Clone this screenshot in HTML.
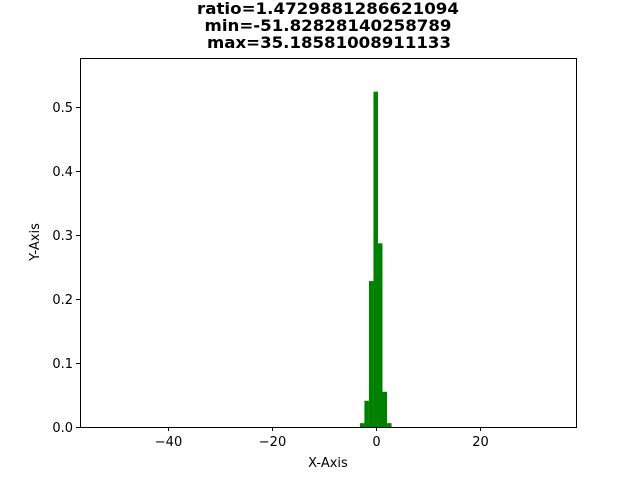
<!DOCTYPE html>
<html><head><meta charset="utf-8"><style>body{margin:0;background:#fff}svg{display:block;font-family:"DejaVu Sans","Liberation Sans",sans-serif}</style></head>
<body>
<svg id="chart" width="640" height="480" viewBox="0 0 640 480">
<g font-weight="bold" font-size="16" text-anchor="middle" fill="#000">
<text x="328" y="14" textLength="262" lengthAdjust="spacingAndGlyphs">ratio=1.4729881286621094</text>
<text x="328" y="31" textLength="247" lengthAdjust="spacingAndGlyphs">min=-51.82828140258789</text>
<text x="329" y="48" textLength="244" lengthAdjust="spacingAndGlyphs">max=35.18581008911133</text>
</g>
<g id="bars"></g>
<rect x="80.5" y="58.5" width="496" height="369" fill="none" stroke="#000" stroke-width="1"/>
<g id="xt" font-size="13" text-anchor="middle"></g>
<g id="yt" font-size="13" text-anchor="end"></g>
<text x="328" y="467" font-size="13" text-anchor="middle">X-Axis</text>
<text x="0" y="0" font-size="13" text-anchor="middle" transform="translate(39,242) rotate(-90)">Y-Axis</text>
</svg>
<script>
const binStart = -51.82828140258789;
const binWidth = 0.8701409149169922;
const binIndex = [56, 57, 58, 59, 60, 61, 62];
const binHeights = [0.006, 0.041, 0.228, 0.524, 0.287, 0.055, 0.006];
const xTicks = [-40, -20, 0, 20];
const yTicks = [0.0, 0.1, 0.2, 0.3, 0.4, 0.5];
const xMin = -56.92, xMax = 38.46, yMin = 0, yMax = 0.5766;
const L = 80, R = 576, T = 58, B = 427;
const sx = v => L + (v - xMin) / (xMax - xMin) * (R - L);
const sy = v => B - (v - yMin) / (yMax - yMin) * (B - T);
const NS = 'http://www.w3.org/2000/svg';
const bars = document.getElementById('bars');
binIndex.forEach((k, i) => {
  const x0 = sx(binStart + k * binWidth), x1 = sx(binStart + (k + 1) * binWidth);
  const r = document.createElementNS(NS, 'rect');
  r.setAttribute('x', x0); r.setAttribute('width', x1 - x0);
  r.setAttribute('y', sy(binHeights[i])); r.setAttribute('height', B - sy(binHeights[i]));
  r.setAttribute('fill', '#008000');
  
  
  bars.appendChild(r);
});
const xt = document.getElementById('xt');
xTicks.forEach(v => {
  const x = Math.round(sx(v)) + 0.5;
  const l = document.createElementNS(NS, 'line');
  l.setAttribute('x1', x); l.setAttribute('x2', x); l.setAttribute('y1', B); l.setAttribute('y2', B + 4);
  l.setAttribute('stroke', '#000');
  
  
  xt.appendChild(l);
  const t = document.createElementNS(NS, 'text');
  t.setAttribute('x', x); t.setAttribute('y', B + 19);
  t.textContent = v < 0 ? '\u2212' + (-v) : String(v);
  
  
  xt.appendChild(t);
});
const yt = document.getElementById('yt');
yTicks.forEach(v => {
  const y = Math.round(sy(v)) + 0.5;
  const l = document.createElementNS(NS, 'line');
  l.setAttribute('x1', L - 4); l.setAttribute('x2', L); l.setAttribute('y1', y); l.setAttribute('y2', y);
  l.setAttribute('stroke', '#000');
  
  
  yt.appendChild(l);
  const t = document.createElementNS(NS, 'text');
  t.setAttribute('x', L - 7); t.setAttribute('y', y + 4.5);
  t.textContent = v.toFixed(1);
  
  
  yt.appendChild(t);
});
</script>
</body></html>
